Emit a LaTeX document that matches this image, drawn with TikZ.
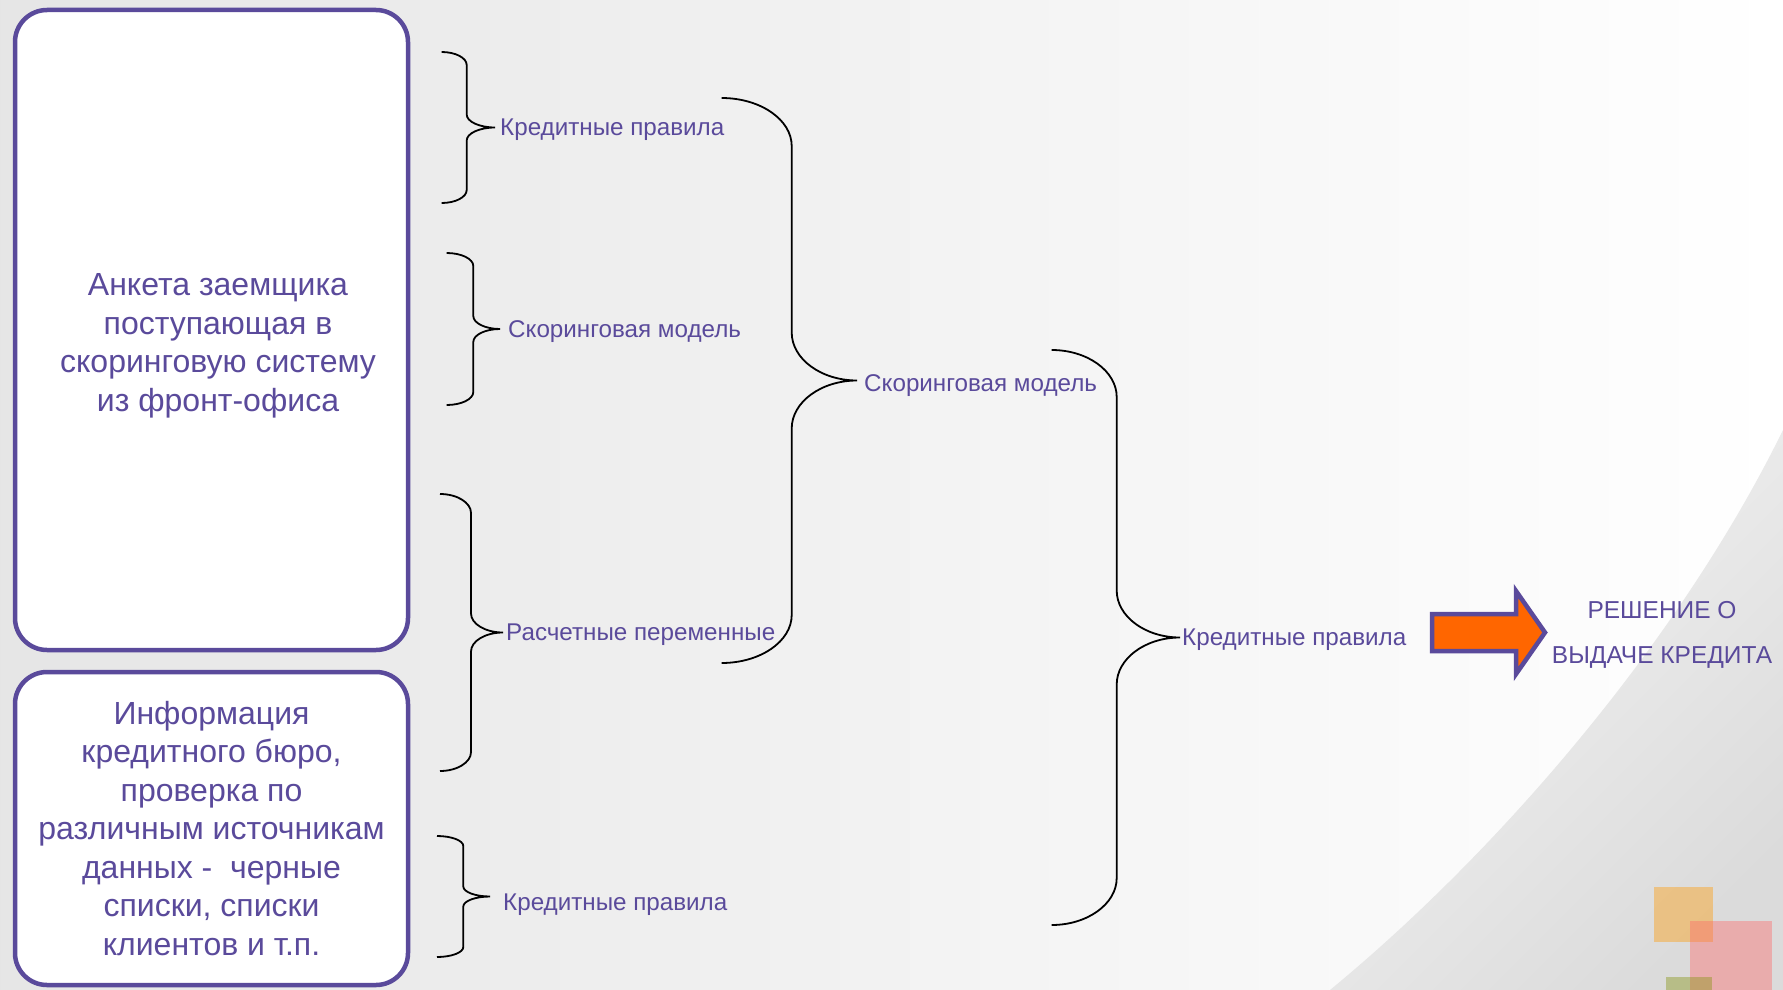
\documentclass[tikz,border=0pt]{standalone}
\usepackage{fontspec}
\setmainfont{Liberation Sans}
\usetikzlibrary{calc, positioning}
\definecolor{ink}{RGB}{90,74,155}
\definecolor{arrowfill}{RGB}{255,102,0}
\tikzstyle{frame} = [rectangle, draw=ink, line width=4.5pt, rounded corners=32pt, fill=white, minimum width=393pt]
\tikzstyle{boxtext} = [text=ink, align=center, font=\fontsize{32}{38.5}\selectfont]
\tikzstyle{lbl} = [text=ink, inner sep=0pt, yshift=-2.5pt, font=\fontsize{24.2}{28}\selectfont]
\tikzstyle{bracepath} = [line width=1.8pt, draw=black]
\tikzstyle{bigarrow} = [line width=4.5pt, draw=ink, fill=arrowfill]
% #1 tip name, #2 end x, #3 spine x, #4 tip x, #5 top y, #6 bottom y, #7 curl
\newcommand{\groupbrace}[7]{%
	\coordinate (#1) at (#4,{(#5+#6)/2});
	\draw[bracepath] (#2,#5)
		.. controls ({#2+0.55*(#3-#2)},#5) and (#3,{#5+0.45*#7}) .. (#3,{#5+#7})
		-- (#3,{(#5+#6)/2-#7})
		.. controls (#3,{(#5+#6)/2-0.45*#7}) and ({#4-0.55*(#4-#3)},{(#5+#6)/2}) .. (#1)
		.. controls ({#4-0.55*(#4-#3)},{(#5+#6)/2}) and (#3,{(#5+#6)/2+0.45*#7}) .. (#3,{(#5+#6)/2+#7})
		-- (#3,{#6-#7})
		.. controls (#3,{#6-0.45*#7}) and ({#2+0.55*(#3-#2)},#6) .. (#2,#6);
}

\begin{document}
\begin{tikzpicture}[x=1pt, y=-1pt]
		\useasboundingbox (0,0) rectangle (1783,990);
		% slide background
		\shade[left color=black!10, right color=white] (0,0) rectangle (1783,990);
		\shade[top color=black!4, bottom color=black!14, shading angle=45] (1783,430) .. controls (1680,640) and (1500,850) .. (1330,990) -- (1783,990) -- cycle;
		\fill[orange!80!yellow, opacity=0.4] (1654,887) rectangle (1713,942);
		\fill[red!60, opacity=0.4] (1690,921) rectangle (1772,990);
		\fill[olive!80!green, opacity=0.4] (1666,977) rectangle (1712,990);

		% sources
		\node (Anketa) [frame, minimum height=640pt] at (211.5,330) {};
		\node (AnketaText) [boxtext] at ([shift={(6.5,16)}]Anketa.center) {Анкета заемщика\\поступающая в\\скоринговую систему\\из фронт-офиса};
		\node (Bureau) [frame, boxtext, minimum height=313pt] at (211.5,828.5) {Информация\\кредитного бюро,\\проверка по\\различным источникам\\данных -\ \ черные\\списки, списки\\клиентов и т.п.};

		% first level
		\groupbrace{Rules1Tip}{441.7}{466.7}{495}{52}{203}{13}
		\groupbrace{Model1Tip}{446.7}{473.3}{500}{253}{405}{13}
		\groupbrace{VarsTip}{440}{471}{503}{494}{771}{19}
		\groupbrace{Rules2Tip}{437}{463.3}{490}{836}{957}{10}
		\node (Rules1) [lbl, right = 5pt of Rules1Tip] {Кредитные правила};
		\node (Model1) [lbl, right = 8pt of Model1Tip] {Скоринговая модель};
		\node (Vars) [lbl, right = 3pt of VarsTip] {Расчетные переменные};
		\node (Rules2) [lbl, right = 13pt of Rules2Tip, yshift=-6pt] {Кредитные правила};

		% second and third level
		\groupbrace{Model2Tip}{721.7}{791.7}{857}{98}{663}{48}
		\node (Model2) [lbl, right = 7pt of Model2Tip, yshift=-3pt] {Скоринговая модель};
		\groupbrace{Rules3Tip}{1051.7}{1116.7}{1180}{350}{925}{47}
		\node (Rules3) [lbl, right = 2pt of Rules3Tip] {Кредитные правила};

		% decision
		\draw[bigarrow] (1432,614) -- (1516,614) -- (1516,591) -- (1545,632.5) -- (1516,674) -- (1516,651) -- (1432,651) -- cycle;
		\node (Decision) [lbl, align=center, font=\fontsize{24.5}{45}\selectfont] at (1662,632) {РЕШЕНИЕ О\\ВЫДАЧЕ КРЕДИТА};
\end{tikzpicture}
\end{document}
